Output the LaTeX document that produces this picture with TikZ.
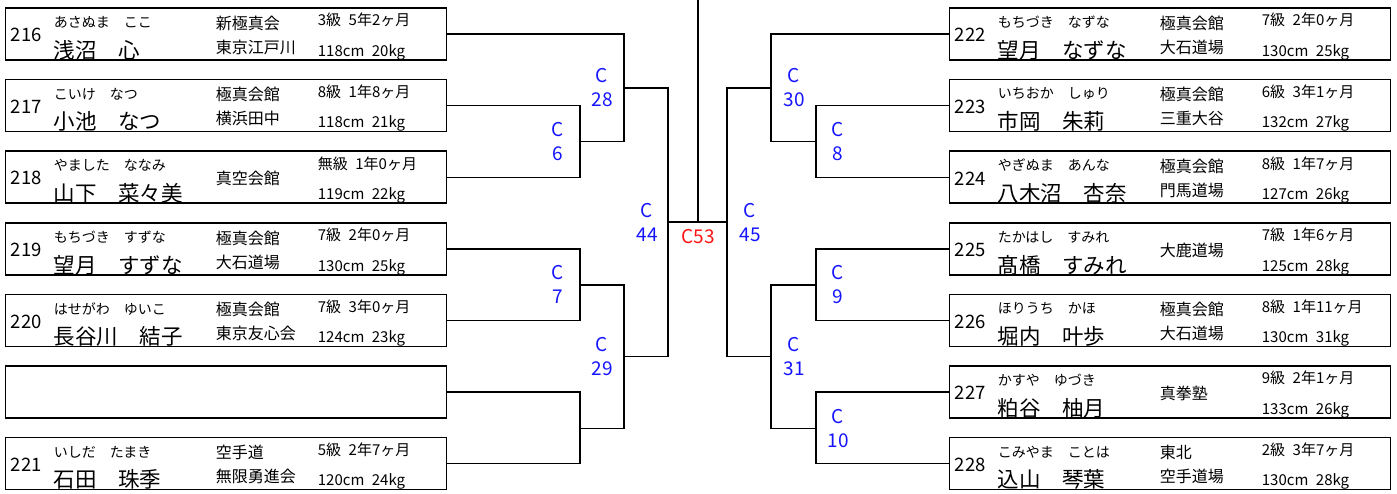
\documentclass[tikz,border=0pt]{standalone}
\usepackage{fontspec}
\setmainfont{Noto Sans CJK JP}
\usepackage{xcolor}
\usepackage{tikz}
\usetikzlibrary{positioning}
\definecolor{matchblue}{HTML}{1414FF}
\definecolor{finalred}{HTML}{FF1414}
\tikzset{
  entry/.style={draw=black, line width=1.6pt, minimum width=441pt,
                minimum height=52pt, inner sep=0pt},
  wire/.style={draw=black, line width=1.4pt},
  numtxt/.style={anchor=west, inner sep=0pt, font=\fontsize{18.5}{20}\selectfont},
  kanatxt/.style={anchor=west, inner sep=0pt, font=\fontsize{14}{16}\selectfont},
  nametxt/.style={anchor=west, inner sep=0pt, font=\fontsize{21.5}{24}\selectfont},
  dojotxt/.style={anchor=west, inner sep=0pt, align=left,
                  font=\fontsize{16}{24}\selectfont},
  infotxt/.style={anchor=west, inner sep=0pt, font=\fontsize{15}{17}\selectfont},
  matchlbl/.style={inner sep=0pt, align=center, text=matchblue,
                   font=\fontsize{19}{24}\selectfont},
  finallbl/.style={matchlbl, text=finalred},
}
\newcommand{\entrytext}[7]{%
  \node[numtxt] (#1no) at ([shift={(6,28)}]#1.north west) {#2};
  \node[kanatxt] (#1kana) at ([shift={(49,15)}]#1.north west) {#3};
  \node[nametxt] (#1name) at ([shift={(49,43)}]#1.north west) {#4};
  \node[dojotxt] (#1dojo) at ([shift={(211,28)}]#1.north west) {#5};
  \node[infotxt] (#1rank) at ([shift={(313,13)}]#1.north west) {#6};
  \node[infotxt] (#1size) at ([shift={(313,45)}]#1.north west) {#7};
}

\begin{document}
\begin{tikzpicture}[x=1pt, y=-1pt, node distance=18pt]
  \useasboundingbox (0,0) rectangle (1397,493);

  \node[entry] (p216) at (226,34) {};
  \node[entry, below=of p216] (p217) {};
  \node[entry, below=of p217] (p218) {};
  \node[entry, below=of p218] (p219) {};
  \node[entry, below=of p219] (p220) {};
  \node[entry, below=of p220] (pbye) {};
  \node[entry, below=of pbye] (p221) {};

  \node[entry] (p222) at (1170,34) {};
  \node[entry, below=of p222] (p223) {};
  \node[entry, below=of p223] (p224) {};
  \node[entry, below=of p224] (p225) {};
  \node[entry, below=of p225] (p226) {};
  \node[entry, below=of p226] (p227) {};
  \node[entry, below=of p227] (p228) {};

  \entrytext{p216}{216}{あさぬま　ここ}{浅沼　心}{新極真会\\東京江戸川}{3級\enspace 5年2ヶ月}{118cm\enspace 20kg}
  \entrytext{p217}{217}{こいけ　なつ}{小池　なつ}{極真会館\\横浜田中}{8級\enspace 1年8ヶ月}{118cm\enspace 21kg}
  \entrytext{p218}{218}{やました　ななみ}{山下　菜々美}{真空会館}{無級\enspace 1年0ヶ月}{119cm\enspace 22kg}
  \entrytext{p219}{219}{もちづき　すずな}{望月　すずな}{極真会館\\大石道場}{7級\enspace 2年0ヶ月}{130cm\enspace 25kg}
  \entrytext{p220}{220}{はせがわ　ゆいこ}{長谷川　結子}{極真会館\\東京友心会}{7級\enspace 3年0ヶ月}{124cm\enspace 23kg}
  \entrytext{p221}{221}{いしだ　たまき}{石田　珠季}{空手道\\無限勇進会}{5級\enspace 2年7ヶ月}{120cm\enspace 24kg}
  \entrytext{p222}{222}{もちづき　なずな}{望月　なずな}{極真会館\\大石道場}{7級\enspace 2年0ヶ月}{130cm\enspace 25kg}
  \entrytext{p223}{223}{いちおか　しゅり}{市岡　朱莉}{極真会館\\三重大谷}{6級\enspace 3年1ヶ月}{132cm\enspace 27kg}
  \entrytext{p224}{224}{やぎぬま　あんな}{八木沼　杏奈}{極真会館\\門馬道場}{8級\enspace 1年7ヶ月}{127cm\enspace 26kg}
  \entrytext{p225}{225}{たかはし　すみれ}{髙橋　すみれ}{大鹿道場}{7級\enspace 1年6ヶ月}{125cm\enspace 28kg}
  \entrytext{p226}{226}{ほりうち　かほ}{堀内　叶歩}{極真会館\\大石道場}{8級\enspace 1年11ヶ月}{130cm\enspace 31kg}
  \entrytext{p227}{227}{かすや　ゆづき}{粕谷　柚月}{真拳塾}{9級\enspace 2年1ヶ月}{133cm\enspace 26kg}
  \entrytext{p228}{228}{こみやま　ことは}{込山　琴葉}{東北\\空手道場}{2級\enspace 3年7ヶ月}{130cm\enspace 28kg}

  \coordinate (c6) at (580,141.5);
  \coordinate (c7) at (580,284.8);
  \coordinate (cbye) at (580,428.2);
  \coordinate (c28) at (624,87.8);
  \coordinate (c29) at (624,356.5);
  \coordinate (c44) at (668,222.1);
  \coordinate (c53) at (698,222.1);
  \coordinate (top) at (698,0);
  \coordinate (c45) at (727,222.1);
  \coordinate (c30) at (771,87.8);
  \coordinate (c31) at (771,356.5);
  \coordinate (c8) at (816,141.5);
  \coordinate (c9) at (816,284.8);
  \coordinate (c10) at (816,428.2);

  \draw[wire] (p217.east) -| (c6) |- (p218.east);
  \draw[wire] (p216.east) -| (c28) |- (c6);
  \draw[wire] (p219.east) -| (c7) |- (p220.east);
  \draw[wire] (pbye.east) -| (cbye) |- (p221.east);
  \draw[wire] (c7) -| (c29) |- (cbye);
  \draw[wire] (c28) -| (c44) |- (c29);
  \draw[wire] (p223.west) -| (c8) |- (p224.west);
  \draw[wire] (p222.west) -| (c30) |- (c8);
  \draw[wire] (p225.west) -| (c9) |- (p226.west);
  \draw[wire] (p227.west) -| (c10) |- (p228.west);
  \draw[wire] (c9) -| (c31) |- (c10);
  \draw[wire] (c30) -| (c45) |- (c31);
  \draw[wire] (c44) -- (c45);
  \draw[wire] (c53) -- (top);

  \node[matchlbl] (l6) at ([xshift=-22pt]c6) {C\\6};
  \node[matchlbl] (l7) at ([xshift=-22pt]c7) {C\\7};
  \node[matchlbl] (l28) at ([xshift=-22pt]c28) {C\\28};
  \node[matchlbl] (l29) at ([xshift=-22pt]c29) {C\\29};
  \node[matchlbl] (l44) at ([xshift=-21pt]c44) {C\\44};
  \node[finallbl] (l53) at ([yshift=-14pt]c53) {C53};
  \node[matchlbl] (l45) at ([xshift=23pt]c45) {C\\45};
  \node[matchlbl] (l30) at ([xshift=23pt]c30) {C\\30};
  \node[matchlbl] (l31) at ([xshift=23pt]c31) {C\\31};
  \node[matchlbl] (l8) at ([xshift=22pt]c8) {C\\8};
  \node[matchlbl] (l9) at ([xshift=22pt]c9) {C\\9};
  \node[matchlbl] (l10) at ([xshift=22pt]c10) {C\\10};
\end{tikzpicture}
\end{document}
